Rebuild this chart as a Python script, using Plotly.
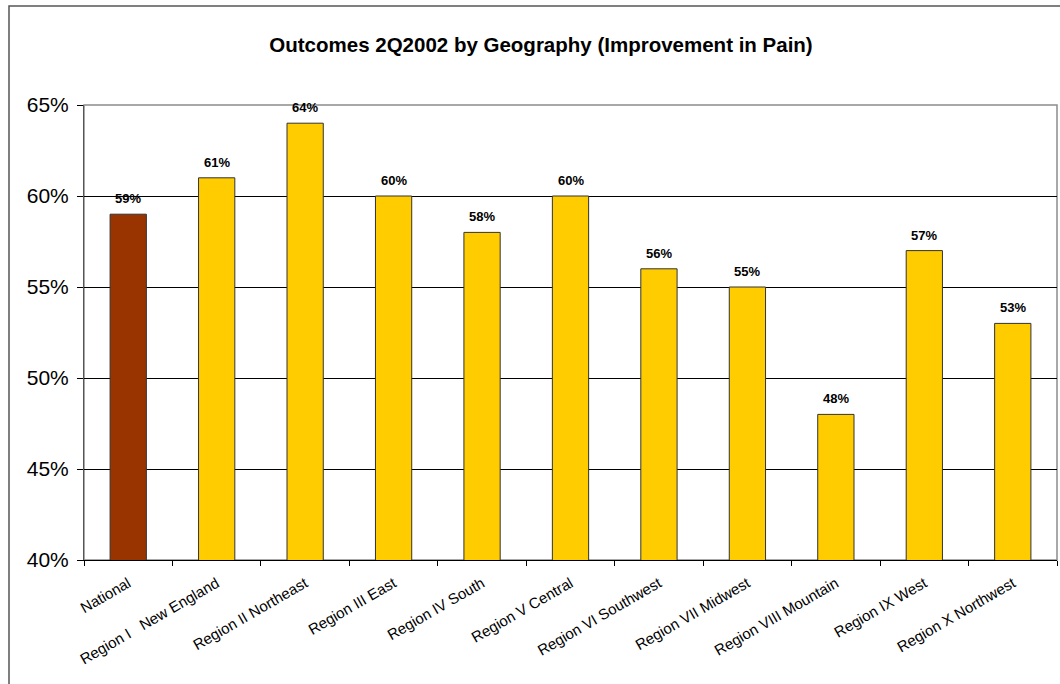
import plotly.graph_objects as go

# Regions and their share of patients with improvement in pain (2Q2002)
regions = [
    "National",
    "Region I   New England",
    "Region II Northeast",
    "Region III East",
    "Region IV South",
    "Region V Central",
    "Region VI Southwest",
    "Region VII Midwest",
    "Region VIII Mountain",
    "Region IX West",
    "Region X Northwest",
]
improvement = [0.59, 0.61, 0.64, 0.60, 0.58, 0.60, 0.56, 0.55, 0.48, 0.57, 0.53]
bar_colors = ["#993300"] + ["#FFCC00"] * (len(regions) - 1)

fig = go.Figure(
    go.Bar(
        x=regions,
        y=improvement,
        marker=dict(color=bar_colors, line=dict(color="#333333", width=1)),
        width=0.41,
        cliponaxis=False,
    )
)

# Value labels above each bar
for name, val in zip(regions, improvement):
    fig.add_annotation(
        x=name, y=val, xref="x", yref="y",
        text=f"<b>{val:.0%}</b>",
        showarrow=False, yanchor="bottom", yshift=6,
        font=dict(family="Arial", size=13, color="#000000"),
    )

fig.update_layout(
    width=1060,
    height=684,
    margin=dict(l=84, r=3, t=105, b=124),
    paper_bgcolor="#FFFFFF",
    plot_bgcolor="#FFFFFF",
    showlegend=False,
    title=dict(
        text="<b>Outcomes 2Q2002 by Geography (Improvement in Pain)</b>",
        x=541 / 1060,
        xref="container",
        xanchor="center",
        y=1 - 45 / 684,
        yref="container",
        yanchor="middle",
        font=dict(family="Arial", size=20.5, color="#000000"),
    ),
    font=dict(family="Arial", color="#000000"),
)

fig.update_xaxes(
    type="category",
    tickangle=-30,
    tickfont=dict(family="Arial", size=15, color="#000000"),
    ticklabelstandoff=8,
    showline=True,
    linecolor="#000000",
    linewidth=1,
    ticks="outside",
    tickson="boundaries",
    ticklen=5,
    tickcolor="#000000",
    showgrid=False,
)
fig.update_yaxes(
    range=[0.40, 0.65],
    dtick=0.05,
    tickformat=".0%",
    tickfont=dict(family="Arial", size=21, color="#000000"),
    ticklabelstandoff=4,
    showline=True,
    linecolor="#555555",
    linewidth=1,
    ticks="outside",
    ticklen=6,
    tickcolor="#000000",
    showgrid=True,
    gridcolor="#000000",
    gridwidth=1,
    zeroline=False,
)

# Plot-area frame (grey top and right edges)
fig.add_shape(
    type="rect", xref="paper", yref="paper", x0=0, x1=1, y0=0, y1=1,
    line=dict(color="#8C8C8C", width=1.5), layer="below",
)
# Outer chart border
fig.add_shape(
    type="rect", xref="paper", yref="paper",
    x0=(9 - 84) / 973, x1=1.2, y0=-0.5, y1=1 + (105 - 6) / 455,
    line=dict(color="#555555", width=1.5),
)

fig.write_html("out.html")
